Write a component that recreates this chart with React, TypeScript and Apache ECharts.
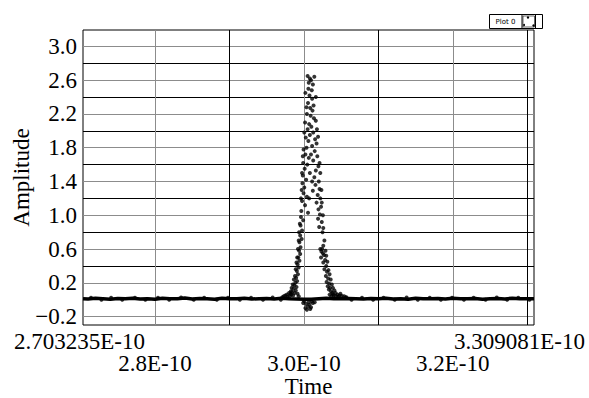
import React, { useEffect, useRef } from "react";
import * as echarts from "echarts";

// Time is stored in picoseconds (1 ps = 1E-12 s); labels are printed in E-10 s.
const X_MIN = 270.3235;
const X_MAX = 330.9081;
const X_GRID = [280, 290, 300, 310, 320, 330];
const X_LABELS = [280, 300, 320];
const X_MIN_LABEL = "2.703235E-10";
const X_MAX_LABEL = "3.309081E-10";
const Y_MIN = -0.3;
const Y_MAX = 3.195;
const Y_GRID = [-0.2, 0, 0.2, 0.4, 0.6, 0.8, 1.0, 1.2, 1.4, 1.6, 1.8, 2.0, 2.2, 2.4, 2.6, 2.8, 3.0];
const Y_LABELS = [-0.2, 0.2, 0.6, 1.0, 1.4, 1.8, 2.2, 2.6, 3.0];

// flat noisy baseline [time ps, amplitude]
const baseline: [number, number][] = [
  [270.3235, 0.012], [271, 0.008], [272, 0.016], [273, 0.012], [274, 0.005], [275, 0.014],
  [276, 0.01], [277, 0.018], [278, 0.008], [279, 0.012], [280, 0.005], [281, 0.016],
  [282, 0.012], [283, 0.01], [284, 0.02], [285, 0.008], [286, 0.014], [287, 0.012],
  [288, 0.005], [289, 0.016], [290, 0.012], [291, 0.01], [292, 0.017], [293, 0.007],
  [294, 0.012], [295, 0.014], [296, 0.009], [297, 0.018], [298, 0.012], [299, 0.008],
  [300, 0.004], [301, 0.006], [302, 0.012], [303, 0.016], [304, 0.012], [305, 0.01],
  [306, 0.015], [307, 0.012], [308, 0.008], [309, 0.014], [310, 0.012], [311, 0.018],
  [312, 0.009], [313, 0.012], [314, 0.005], [315, 0.016], [316, 0.012], [317, 0.01],
  [318, 0.014], [319, 0.008], [320, 0.017], [321, 0.012], [322, 0.01], [323, 0.015],
  [324, 0.005], [325, 0.012], [326, 0.014], [327, 0.009], [328, 0.018], [329, 0.012],
  [330, 0.01], [330.9081, 0.012],
];

// scattered dots along the baseline
const baselineDots: [number, number][] = [
  [271.4, 0.022], [272.8, 0.0], [274.1, 0.024], [275.6, -0.002], [277.3, 0.022],
  [278.7, 0.0], [280.4, 0.023], [281.9, -0.002], [283.5, 0.025], [285.2, -0.001],
  [286.6, 0.022], [288.3, -0.002], [289.8, 0.024], [291.4, 0.0], [292.9, 0.022],
  [294.5, -0.002], [295.8, 0.025], [296.9, 0.0], [305.6, 0.026], [306.4, -0.002],
  [307.8, 0.023], [309.3, -0.001], [310.7, 0.022], [312.2, -0.002], [313.8, 0.025],
  [315.3, 0.0], [316.9, 0.023], [318.4, -0.002], [319.9, 0.024], [321.5, -0.001],
  [322.8, 0.022], [324.4, -0.002], [325.9, 0.025], [327.3, 0.0], [328.8, 0.023],
  [330.3, -0.002],
];

// pulse samples [time ps, amplitude]
const pulse: [number, number][] = [
  [300.5, 2.65], [300.8, 2.62], [300.95, 2.6], [300.65, 2.57], [301.2, 2.55], [301.4, 2.64],
  [300.6, 2.5], [301.05, 2.48], [300.75, 2.42], [301.1, 2.38], [300.55, 2.33], [301.3, 2.3],
  [300.85, 2.27], [301.15, 2.24], [300.2, 2.45], [301.6, 2.4], [300.35, 2.28],
  [300.4, 2.2], [300.9, 2.18], [301.35, 2.15], [301.6, 2.12], [300.7, 2.08], [301.0, 2.05],
  [300.5, 2.02], [301.25, 1.98], [300.8, 1.95], [300.25, 1.92], [301.5, 1.9], [300.6, 1.88],
  [301.7, 1.85], [301.1, 1.82], [300.35, 1.8], [301.75, 2.02], [300.15, 2.1], [301.9, 1.93],
  [300.05, 1.98],
  [299.95, 1.78], [301.45, 1.76], [300.2, 1.72], [301.8, 1.7], [300.65, 1.68], [301.25, 1.65],
  [299.9, 1.62], [300.45, 1.6], [301.95, 1.58], [300.1, 1.55], [301.6, 1.53], [300.8, 1.5],
  [299.85, 1.47], [301.4, 1.45], [300.3, 1.42], [302.0, 1.4], [299.85, 1.7], [302.1, 1.62],
  [299.75, 1.5], [302.2, 1.5], [300.95, 1.72], [301.1, 1.4],
  [299.8, 1.38], [301.55, 1.36], [300.05, 1.33], [302.1, 1.31], [301.2, 1.29], [299.95, 1.26],
  [301.85, 1.24], [300.4, 1.22], [302.2, 1.2], [299.75, 1.17], [301.7, 1.15], [300.15, 1.12],
  [302.3, 1.1], [301.95, 1.07], [299.65, 1.05], [300.55, 1.03], [302.15, 1.01],
  [302.35, 1.3], [299.7, 1.3], [302.4, 1.15], [299.6, 1.2], [300.7, 1.2],
  [299.6, 0.98], [301.9, 0.96], [299.9, 0.94], [302.4, 0.92], [299.55, 0.88], [302.05, 0.86],
  [299.75, 0.82], [302.5, 0.8], [299.5, 0.76], [299.7, 0.72], [299.4, 0.68], [302.6, 0.64],
  [299.55, 0.62], [302.45, 0.6], [302.55, 1.0], [299.45, 0.9], [302.6, 0.85], [299.35, 0.8],
  [302.75, 0.7], [299.3, 0.7],
  [302.2, 0.6], [302.35, 0.57], [302.55, 0.55], [302.7, 0.53], [302.3, 0.5],
  [299.35, 0.58], [299.5, 0.54], [299.25, 0.5], [299.4, 0.46], [302.85, 0.47], [302.6, 0.44],
  [299.15, 0.42], [303.0, 0.4], [299.3, 0.38], [302.75, 0.36], [299.05, 0.34], [303.1, 0.33],
  [299.2, 0.3], [302.95, 0.28], [298.95, 0.26], [303.25, 0.25], [299.1, 0.22], [303.05, 0.21],
  [298.85, 0.2], [303.4, 0.19], [302.9, 0.58], [299.2, 0.6], [303.0, 0.52], [299.1, 0.5],
  [303.15, 0.45], [299.0, 0.44], [303.3, 0.35], [298.9, 0.36], [303.45, 0.3], [298.8, 0.28],
  [303.6, 0.24], [298.65, 0.24],
  [298.7, 0.17], [299.0, 0.15], [303.2, 0.16], [303.5, 0.14], [298.6, 0.13], [298.9, 0.11],
  [303.35, 0.12], [303.65, 0.1], [298.4, 0.09], [298.75, 0.08], [299.15, 0.07], [303.8, 0.08],
  [303.45, 0.06], [298.3, 0.06], [304.0, 0.05], [298.55, 0.05], [299.3, 0.04], [303.7, 0.04],
  [304.3, 0.04], [298.1, 0.04], [297.8, 0.035], [304.6, 0.035], [298.2, 0.07], [303.9, 0.065],
  [303.75, 0.18], [298.5, 0.18], [303.9, 0.14], [298.35, 0.14], [304.1, 0.11], [298.25, 0.1],
  [304.25, 0.08], [298.0, 0.08], [304.5, 0.06], [297.7, 0.06], [304.8, 0.05], [297.5, 0.05],
  [305.1, 0.045], [305.4, 0.04], [297.3, 0.04], [305.7, 0.03], [297.1, 0.03], [304.9, 0.07],
  [300.05, -0.02], [300.3, -0.05], [300.55, -0.08], [300.2, -0.1], [300.75, -0.06],
  [300.95, -0.09], [301.2, -0.04], [300.4, -0.12], [300.85, -0.11], [301.45, -0.03],
  [299.9, -0.04], [301.05, -0.02], [300.65, -0.03],
];

const FONT = "Liberation Serif";
const FS = 23;

function fmtY(v: number): string {
  return v.toFixed(1).replace("-", "\u2212");
}

export default function App() {
  const ref = useRef<HTMLDivElement>(null);
  useEffect(() => {
    if (!ref.current) return;
    const chart = echarts.init(ref.current, null, { renderer: "svg" });
    chart.setOption({
      animation: false,
      backgroundColor: "#ffffff",
      textStyle: { fontFamily: FONT },
      grid: {
        left: 83, right: 55, top: 30, bottom: 73,
        outerBoundsMode: "none",
        containLabel: false,
        show: true, borderColor: "#000", borderWidth: 1, backgroundColor: "#fff",
      },
      xAxis: {
        type: "value",
        min: X_MIN,
        max: X_MAX,
        axisLine: { show: false },
        axisTick: { show: false, customValues: X_GRID },
        splitLine: { show: true, lineStyle: { color: ["#8c8c8c", "#000000"], width: 1 } },
        axisLabel: {
          customValues: X_LABELS,
          formatter: (v: number) => (v / 100).toFixed(1) + "E-10",
          margin: 27,
          color: "#000",
          fontFamily: FONT,
          fontSize: FS,
          lineHeight: FS,
        },
        name: "Time",
        nameLocation: "middle",
        nameGap: 50,
        nameMoveOverlap: false,
        nameTextStyle: { color: "#000", fontFamily: FONT, fontSize: FS, lineHeight: FS },
      },
      yAxis: {
        type: "value",
        min: Y_MIN,
        max: Y_MAX,
        axisLine: { show: false },
        axisTick: { show: false, customValues: Y_GRID },
        splitLine: { show: true, lineStyle: { color: ["#8c8c8c", "#000000"], width: 1 } },
        axisLabel: {
          customValues: Y_LABELS,
          formatter: (v: number) => fmtY(v),
          margin: 6,
          color: "#000",
          fontFamily: FONT,
          fontSize: FS,
        },
        name: "Amplitude",
        nameLocation: "middle",
        nameGap: 50,
        nameMoveOverlap: false,
        nameRotate: 90,
        nameTextStyle: { color: "#000", fontFamily: FONT, fontSize: FS },
      },
      series: [
        {
          type: "line",
          data: baseline,
          showSymbol: false,
          symbol: "none",
          lineStyle: { color: "#000", width: 3.5 },
          z: 3,
          silent: true,
        },
        {
          type: "scatter",
          data: baselineDots.concat(pulse),
          symbol: "circle",
          symbolSize: 4,
          itemStyle: { color: "#000" },
          z: 4,
          silent: true,
        },
      ],
      graphic: [
        {
          type: "text", left: 14, top: 330,
          style: { text: X_MIN_LABEL, fontFamily: FONT, fontSize: FS, fill: "#000" },
        },
        {
          type: "text", right: 4, top: 330,
          style: { text: X_MAX_LABEL, fontFamily: FONT, fontSize: FS, fill: "#000" },
        },
        {
          type: "group", left: 489, top: 12,
          children: [
            { type: "rect", shape: { x: 0, y: 0, width: 53, height: 14 }, style: { fill: "#fff", stroke: "#000", lineWidth: 1 } },
            { type: "line", shape: { x1: 32.5, y1: 0, x2: 32.5, y2: 14 }, style: { stroke: "#000", lineWidth: 1 } },
            { type: "line", shape: { x1: 46, y1: 0, x2: 46, y2: 14 }, style: { stroke: "#000", lineWidth: 1 } },
            { type: "rect", shape: { x: 33.5, y: 1.5, width: 11.5, height: 11 }, style: { fill: "#fff", stroke: "#000", lineWidth: 0.6 } },
            { type: "circle", shape: { cx: 38.5, cy: 3, r: 1.2 }, style: { fill: "#000" } },
            { type: "circle", shape: { cx: 44, cy: 11, r: 1.2 }, style: { fill: "#000" } },
            { type: "circle", shape: { cx: 34.5, cy: 10.5, r: 1 }, style: { fill: "#000" } },
            { type: "text", x: 16, y: 7, style: { text: "Plot 0", fontFamily: "DejaVu Sans", fontSize: 7, fill: "#000", align: "center", verticalAlign: "middle" } },
          ],
        },
      ],
    });
    return () => chart.dispose();
  }, []);
  return (
    <div
      ref={ref}
      style={{ position: "absolute", left: 0, top: 0, width: 589, height: 398, background: "#fff" }}
    />
  );
}
